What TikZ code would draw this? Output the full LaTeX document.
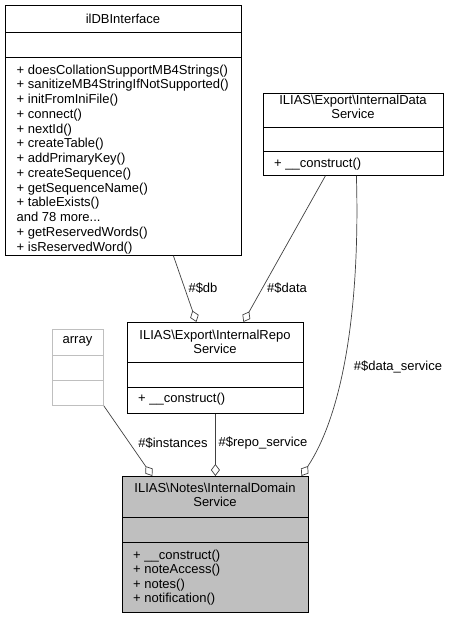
\documentclass[tikz,border=0pt]{standalone}
\usepackage{fontspec}
\setmainfont{Liberation Sans}
\usetikzlibrary{arrows.meta}
\tikzset{
  umlbox/.style={draw=black, line width=0.8pt, inner sep=0pt, anchor=north west},
  umltext/.style={inner sep=0pt, font=\fontsize{13}{14.6}\selectfont},
  umlops/.style={umltext, align=left, anchor=north west},
  umltitle/.style={umltext, align=center, font=\fontsize{13}{13.8}\selectfont},
  aggr/.style={draw=black!75, line width=0.7pt, -{Diamond[open, length=12pt, width=9pt]}},
  edgelabel/.style={umltext}
}
\begin{document}
\begin{tikzpicture}[x=1pt, y=-1pt]
  \useasboundingbox (0,0) rectangle (450,617);
  % ilDBInterface
  \node[umlbox, minimum width=236pt, minimum height=250pt] (dbif) at (5,5) {};
  \draw[line width=0.8pt] (5,32) -- (241,32);
  \draw[line width=0.8pt] (5,57) -- (241,57);
  \node[umltitle] (dbiftitle) at (123,18.5) {ilDBInterface};
  \node[umlops, font=\fontsize{13}{14.75}\selectfont] (dbifops) at (16.5,64.5) {+ doesCollationSupportMB4Strings()\\
    + sanitizeMB4StringIfNotSupported()\\
    + initFromIniFile()\\
    + connect()\\
    + nextId()\\
    + createTable()\\
    + addPrimaryKey()\\
    + createSequence()\\
    + getSequenceName()\\
    + tableExists()\\
    and 78 more...\\
    + getReservedWords()\\
    + isReservedWord()};
  % ILIAS\Export\InternalDataService
  \node[umlbox, minimum width=180pt, minimum height=82pt] (datasvc) at (263,93) {};
  \draw[line width=0.8pt] (263,127) -- (443,127);
  \draw[line width=0.8pt] (263,151) -- (443,151);
  \node[umltitle] (datasvctitle) at (353,107) {ILIAS\textbackslash Export\textbackslash InternalData\\Service};
  \node[umlops] (datasvcops) at (274,157.5) {+ \_\_construct()};
  % ILIAS\Export\InternalRepoService
  \node[umlbox, minimum width=176pt, minimum height=91pt] (reposvc) at (127,322) {};
  \draw[line width=0.8pt] (127,362) -- (303,362);
  \draw[line width=0.8pt] (127,387) -- (303,387);
  \node[umltitle] (reposvctitle) at (215,341.5) {ILIAS\textbackslash Export\textbackslash InternalRepo\\Service};
  \node[umlops] (reposvcops) at (138,393) {+ \_\_construct()};
  % array
  \node[umlbox, draw=black!25, minimum width=51pt, minimum height=76pt] (arr) at (52,329) {};
  \draw[black!25, line width=0.8pt] (52,355) -- (103,355);
  \draw[black!25, line width=0.8pt] (52,380) -- (103,380);
  \node[umltitle] (arrtitle) at (77.5,341) {array};
  % ILIAS\Notes\InternalDomainService
  \node[umlbox, fill=black!25, minimum width=186pt, minimum height=136pt] (domsvc) at (122,476) {};
  \draw[line width=0.8pt] (122,517) -- (308,517);
  \draw[line width=0.8pt] (122,542) -- (308,542);
  \node[umltitle] (domsvctitle) at (215,495) {ILIAS\textbackslash Notes\textbackslash InternalDomain\\Service};
  \node[umlops] (domsvcops) at (133,549.5) {+ \_\_construct()\\
    + noteAccess()\\
    + notes()\\
    + notification()};
  % aggregations
  \draw[aggr] ([xshift=50pt]dbif.south) -- ([xshift=-19pt]reposvc.north);
  \draw[aggr] ([xshift=-28pt]datasvc.south) -- ([xshift=28pt]reposvc.north);
  \draw[aggr] ([xshift=3pt]datasvc.south) .. controls (360,300) and (345,410) .. ([xshift=86pt]domsvc.north);
  \draw[aggr] (arr.south east) -- ([xshift=-63pt]domsvc.north);
  \draw[aggr] (reposvc.south) -- (domsvc.north);
  % labels
  \node[edgelabel] (ldb) at (203,288) {\#\$db};
  \node[edgelabel] (ldata) at (287,288) {\#\$data};
  \node[edgelabel] (ldatasvc) at (398,367) {\#\$data\_service};
  \node[edgelabel] (linst) at (173,443) {\#\$instances};
  \node[edgelabel] (lrepo) at (263,443) {\#\$repo\_service};
\end{tikzpicture}
\end{document}
